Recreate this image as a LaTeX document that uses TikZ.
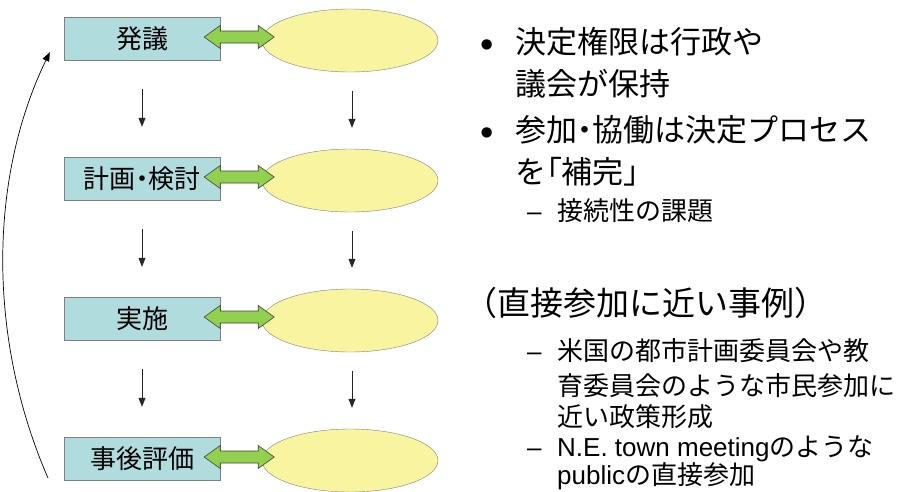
\documentclass[tikz,border=0pt]{standalone}
\usepackage{fontspec}
\setmainfont{Liberation Sans}
\newfontfamily\jp{Noto Sans CJK JP}
\newcommand\prop[1]{{\addfontfeature{RawFeature=+palt}#1}}
\usetikzlibrary{shapes.geometric,arrows.meta}

\definecolor{stagefill}{RGB}{176,220,222}
\definecolor{poolfill}{RGB}{248,244,160}
\definecolor{linkfill}{RGB}{146,208,80}
\definecolor{edgegray}{RGB}{128,128,128}

\tikzset{
  stage/.style={draw=edgegray, fill=stagefill, minimum width=156pt, minimum height=43pt,
    inner sep=0pt, font=\jp\fontsize{26}{26}\selectfont},
  pool/.style={ellipse, draw=edgegray, fill=poolfill, minimum width=176pt,
    minimum height=63pt, inner sep=0pt},
  link/.style={draw=black!75, fill=linkfill, line width=0.6pt, line join=miter},
  flow/.style={draw=black!85, line width=0.7pt, -{Triangle[width=7pt,length=9pt]}},
  lvlone/.style={anchor=base west, inner sep=0pt, font=\jp\fontsize{31}{31}\selectfont},
  lvltwo/.style={anchor=base west, inner sep=0pt, font=\jp\fontsize{26}{26}\selectfont},
  bulletmark/.style={anchor=base, inner sep=0pt, font=\fontsize{38}{38}\selectfont},
  dashmark/.style={anchor=base west, inner sep=0pt, font=\fontsize{26}{26}\selectfont}
}

\begin{document}
\begin{tikzpicture}[x=1pt, y=-1pt]
	\useasboundingbox (0,0) rectangle (901,491);
	\clip (0,0) rectangle (901,491);

	% stages and the matching ellipses
	\foreach \i/\y/\lbl in {1/38.5/発議, 2/178.5/計画\prop{・}検討, 3/318.5/実施, 4/458.5/事後評価}
	{
		\node[pool] (ell\i) at (350,\y+2) {};
		\node[stage] (box\i) at (142,\y) {\lbl};
	}

	% green two-way arrows
	\foreach \i in {1,...,4}
	\draw[link] ([xshift=-16,yshift=1.5]box\i.east) -- ++(16,-11.5) -- ++(0,5.5) -- ++(38,0)
		-- ++(0,-5.5) -- ++(16,11.5) -- ++(-16,11.5) -- ++(0,-5.5) -- ++(-38,0)
		-- ++(0,5.5) -- cycle;

	% downward arrows
	\foreach \i/\j in {1/2,2/3,3/4}
	{
		\draw[flow] ([yshift=-29]box\i.south) -- ([yshift=30]box\j.north);
		\draw[flow] ([xshift=2,yshift=-19]ell\i.south) -- ([xshift=2,yshift=21]ell\j.north);
	}

	% feedback back to the start
	\coordinate (back) at (48,478);
	\draw[line width=0.7pt, -{Triangle[width=7pt,length=9pt]}]
		(back) .. controls (-12,340) and (-12,180) .. ([xshift=-14,yshift=8]box1.south west);

	% text on the right
	\node[bulletmark] (m1) at (487,57) {\textbullet};
	\node[lvlone] (t1a) at (515,53) {決定権限は行政や};
	\node[lvlone] (t1b) at (515,95) {議会が保持};
	\node[bulletmark] (m2) at (487,145) {\textbullet};
	\node[lvlone] (t2a) at (515,141) {参加\prop{・}協働は決定プロセス};
	\node[lvlone] (t2b) at (515,183) {を\prop{「}補完\prop{」}};
	\node[dashmark] (d1) at (527,220) {–};
	\node[lvltwo] (t3) at (557,220) {接続性の課題};

	\node[lvlone, font=\jp\fontsize{33}{33}\selectfont] (t4) at (464,315) {（直接参加に近い事例）};
	\node[dashmark] (d2) at (527,360) {–};
	\node[lvltwo] (t5a) at (557,360) {米国の都市計画委員会や教};
	\node[lvltwo] (t5b) at (557,395) {育委員会のような市民参加に};
	\node[lvltwo] (t5c) at (557,426) {近い政策形成};
	\node[dashmark] (d3) at (527,456) {–};
	\node[lvltwo] (t6a) at (557,456) {{\rmfamily N.E. town meeting}のような};
	\node[lvltwo] (t6b) at (557,484) {{\rmfamily public}の直接参加};
\end{tikzpicture}
\end{document}
